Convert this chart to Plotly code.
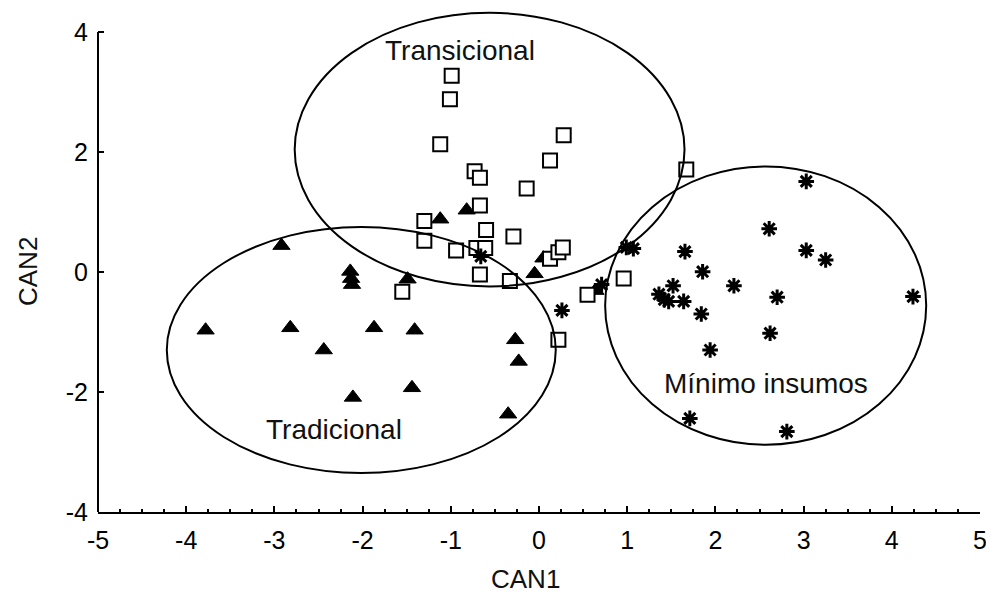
import plotly.graph_objects as go

# ---------------- data ----------------
trad_x = [-3.78, -2.92, -2.82, -2.44, -2.14, -2.13, -2.12, -2.11, -1.87, -1.49,
          -1.41, -1.44, -1.12, -0.82, -0.27, -0.23, -0.35, -0.05, 0.05, 0.64]
trad_y = [-0.97, 0.44, -0.93, -1.30, 0.01, -0.11, -0.21, -2.09, -0.93, -0.12,
          -0.97, -1.93, 0.88, 1.03, -1.13, -1.49, -2.37, -0.03, 0.23, -0.31]

trans_x = [-0.99, -1.01, -1.12, 0.28, 0.125, -0.73, -0.67, -0.14, -0.67, -1.30,
           -0.60, -0.29, -1.30, -0.94, -0.71, -0.61, -0.67, -0.33, 0.125, 0.22,
           0.27, -1.55, 0.55, 0.22, 1.67, 0.96]
trans_y = [3.27, 2.88, 2.13, 2.28, 1.86, 1.68, 1.57, 1.39, 1.11, 0.85,
           0.70, 0.59, 0.52, 0.36, 0.40, 0.40, -0.04, -0.15, 0.22, 0.33,
           0.41, -0.33, -0.38, -1.13, 1.71, -0.11]

min_x = [3.03, 2.61, 3.03, 3.25, 1.655, 0.99, 1.07, 1.855, 2.21, 2.70,
         4.24, 1.52, 1.36, 1.47, 1.64, 1.42, 1.84, 2.62, 1.94, 1.71,
         2.81, 0.71, 0.26, -0.66]
min_y = [1.51, 0.72, 0.36, 0.20, 0.34, 0.41, 0.39, 0.005, -0.23, -0.42,
         -0.41, -0.23, -0.37, -0.49, -0.49, -0.46, -0.70, -1.02, -1.30, -2.44,
         -2.66, -0.21, -0.64, 0.26]

x_ticks = [-5, -4, -3, -2, -1, 0, 1, 2, 3, 4, 5]
y_ticks = [-4, -2, 0, 2, 4]

group_names = ["Transicional", "Tradicional", "Mínimo insumos"]
ellipse_cx = [-0.56, -2.015, 2.57]
ellipse_cy = [2.04, -1.30, -0.56]
ellipse_rx = [2.21, 2.205, 1.82]
ellipse_ry = [2.28, 2.05, 2.32]
label_x = [-0.90, -2.32, 2.57]
label_y = [3.70, -2.62, -1.85]

x_title = "CAN1"
y_title = "CAN2"

X_RANGE = [-5, 5]
Y_RANGE = [-4, 4.4]
FONT = "Liberation Sans, Arial, sans-serif"

fig = go.Figure()

fig.add_trace(go.Scatter(
    x=trad_x, y=trad_y, mode="markers", name="Tradicional",
    marker=dict(symbol="triangle-up", size=15, color="black",
                line=dict(color="black", width=1)),
    showlegend=False))

fig.add_trace(go.Scatter(
    x=trans_x, y=trans_y, mode="markers", name="Transicional",
    marker=dict(symbol="square", size=14, color="white",
                line=dict(color="black", width=2)),
    showlegend=False))

fig.add_trace(go.Scatter(
    x=min_x, y=min_y, mode="markers", name="Mínimo insumos",
    marker=dict(symbol="asterisk-open", size=13, color="black",
                line=dict(color="black", width=3)),
    showlegend=False))

shapes = []
for cx, cy, rx, ry in zip(ellipse_cx, ellipse_cy, ellipse_rx, ellipse_ry):
    shapes.append(dict(type="circle", xref="x", yref="y",
                       x0=cx - rx, x1=cx + rx, y0=cy - ry, y1=cy + ry,
                       line=dict(color="black", width=2), layer="above"))

# left axis line only from -4 to 4
y_top_frac = (y_ticks[-1] - Y_RANGE[0]) / (Y_RANGE[1] - Y_RANGE[0])
shapes.append(dict(type="line", xref="x domain", yref="y domain",
                   x0=0, x1=0, y0=0, y1=y_top_frac,
                   line=dict(color="black", width=2)))

annotations = []
for name, lx, ly in zip(group_names, label_x, label_y):
    annotations.append(dict(x=lx, y=ly, xref="x", yref="y", text=name,
                            showarrow=False,
                            font=dict(family=FONT, size=28, color="#111111")))

# axis titles
annotations.append(dict(x=-0.15, y=0, xref="x", yref="paper", text=x_title,
                        showarrow=False, xanchor="center", yanchor="top",
                        yshift=-50,
                        font=dict(family=FONT, size=26, color="#111111")))
annotations.append(dict(x=0, y=0, xref="paper", yref="y", text=y_title,
                        showarrow=False, textangle=-90, xanchor="center",
                        yanchor="middle", xshift=-70,
                        font=dict(family=FONT, size=26, color="#111111")))

# the page body adds an 8px offset, so the figure is 8px smaller each way
fig.update_layout(
    width=986, height=586,
    margin=dict(l=90, r=14, t=0, b=82),
    paper_bgcolor="white", plot_bgcolor="white",
    font=dict(family=FONT, color="black"),
    shapes=shapes, annotations=annotations,
)

fig.update_xaxes(
    range=X_RANGE, tickvals=x_ticks, ticktext=[str(v) for v in x_ticks],
    automargin=False,
    showgrid=False, zeroline=False, showline=True, linecolor="black",
    linewidth=2, ticks="inside", ticklen=6, tickwidth=2, tickcolor="black",
    minor=dict(dtick=0.25, ticks="inside", ticklen=3, tickwidth=1.5,
               tickcolor="black", showgrid=False),
    tickfont=dict(family=FONT, size=25, color="black"),
    ticklabelstandoff=5,
)
fig.update_yaxes(
    range=Y_RANGE, tickvals=y_ticks, ticktext=[str(v) for v in y_ticks],
    automargin=False,
    showgrid=False, zeroline=False, showline=False,
    ticks="inside", ticklen=6, tickwidth=2, tickcolor="black",
    tickfont=dict(family=FONT, size=25, color="black"),
    ticklabelstandoff=9,
)

fig.write_html("out.html")
